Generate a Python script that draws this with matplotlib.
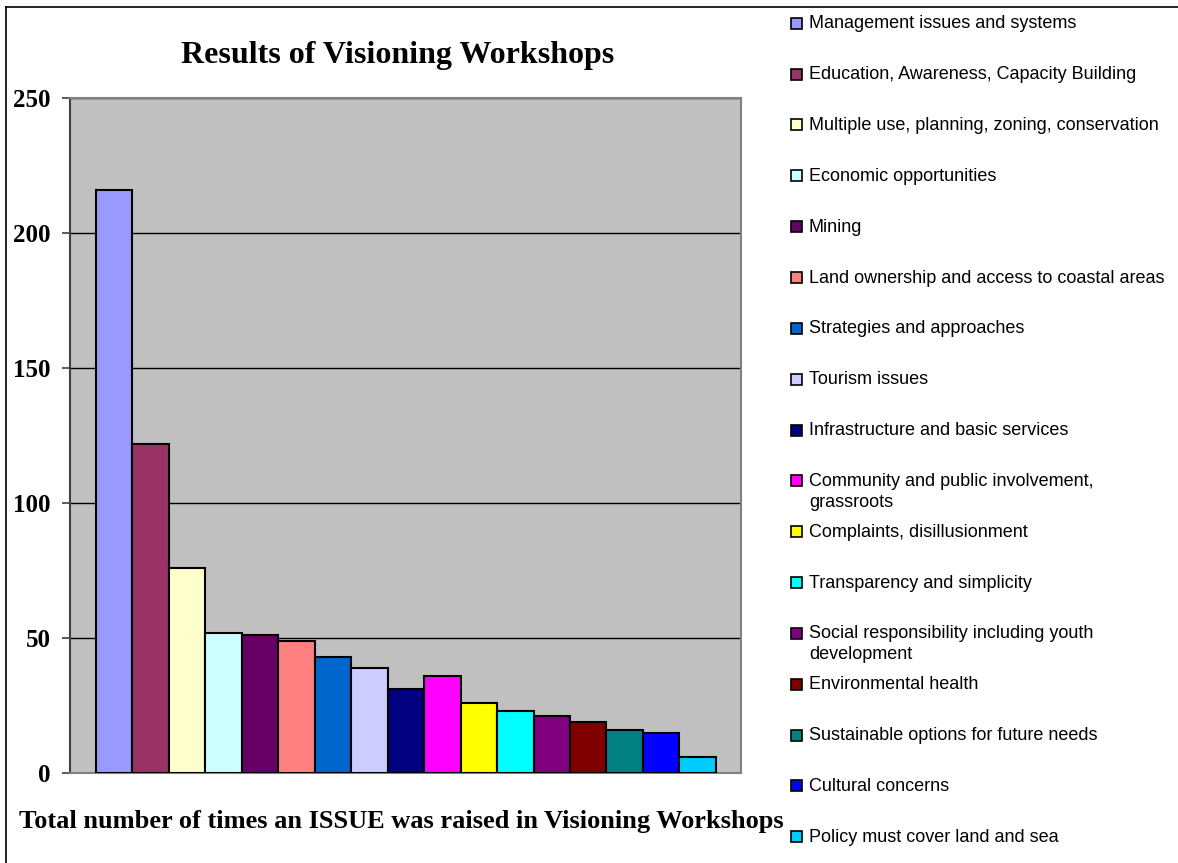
import matplotlib.pyplot as plt
from matplotlib.patches import Rectangle
from matplotlib.lines import Line2D

issues = ['Management issues and systems',
          'Education, Awareness, Capacity Building',
          'Multiple use, planning, zoning, conservation',
          'Economic opportunities',
          'Mining',
          'Land ownership and access to coastal areas',
          'Strategies and approaches',
          'Tourism issues',
          'Infrastructure and basic services',
          'Community and public involvement,\ngrassroots',
          'Complaints, disillusionment',
          'Transparency and simplicity',
          'Social responsibility including youth\ndevelopment',
          'Environmental health',
          'Sustainable options for future needs',
          'Cultural concerns',
          'Policy must cover land and sea']
counts = [216, 122, 76, 52, 51, 49, 43, 39, 31, 36, 26, 23, 21, 19, 16, 15, 6]
colors = ['#9999FF', '#993366', '#FFFFCC', '#CCFFFF', '#660066', '#FF8080',
          '#0066CC', '#CCCCFF', '#000080', '#FF00FF', '#FFFF00', '#00FFFF',
          '#800080', '#800000', '#008080', '#0000FF', '#00CCFF']
yticks = [0, 50, 100, 150, 200, 250]

W, H = 1178, 863
fig = plt.figure(figsize=(W / 100, H / 100), dpi=100)

# chart border (left and top edges visible)
fig.add_artist(Line2D([5.5 / W, 5.5 / W], [0, 1 - 7 / H], color='black', lw=1.2))
fig.add_artist(Line2D([5.5 / W, 1], [1 - 7 / H, 1 - 7 / H], color='black', lw=1.2))

ax = fig.add_axes([70 / W, 1 - 773 / H, 671 / W, 675 / H])
ax.set_facecolor('#C0C0C0')
x = list(range(len(counts)))
ax.bar(x, counts, width=1.0, color=colors, edgecolor='black', linewidth=1.5, zorder=3)
ax.set_xlim(-1.21, 17.19)
ax.set_ylim(0, 250)
ax.set_yticks(yticks)
ax.set_xticks([])
ax.yaxis.grid(True, color='black', linewidth=1.0, zorder=1)
ax.set_axisbelow(True)
for s in ['top', 'right', 'bottom']:
    ax.spines[s].set_color('#808080')
    ax.spines[s].set_linewidth(1.5)
ax.spines['left'].set_color('#404040')
ax.spines['left'].set_linewidth(1.5)
ax.tick_params(axis='y', length=6, width=1.2, color='#404040', pad=8)
for lab in ax.get_yticklabels():
    lab.set_fontfamily('Liberation Serif')
    lab.set_fontweight('bold')
    lab.set_fontsize(18)

fig.text(398 / W, 1 - 55 / H, 'Results of Visioning Workshops',
         ha='center', va='center', family='Liberation Serif',
         weight='bold', fontsize=23)
fig.text(401 / W, 1 - 821 / H,
         'Total number of times an ISSUE was raised in Visioning Workshops',
         ha='center', va='center', family='Liberation Serif',
         weight='bold', fontsize=19)

# legend, one entry per bar, evenly stepped
step = 50.84
for i, (name, c) in enumerate(zip(issues, colors)):
    yc = 23.3 + i * step
    fig.add_artist(Rectangle((791 / W, 1 - (yc + 5.5) / H), 11 / W, 11 / H,
                             facecolor=c, edgecolor='black', lw=1.2))
    fig.text(809 / W, 1 - (yc - 8) / H, name, ha='left', va='top',
             family='Liberation Sans', fontsize=13, linespacing=1.3)

fig.savefig('out.png', dpi=100)
